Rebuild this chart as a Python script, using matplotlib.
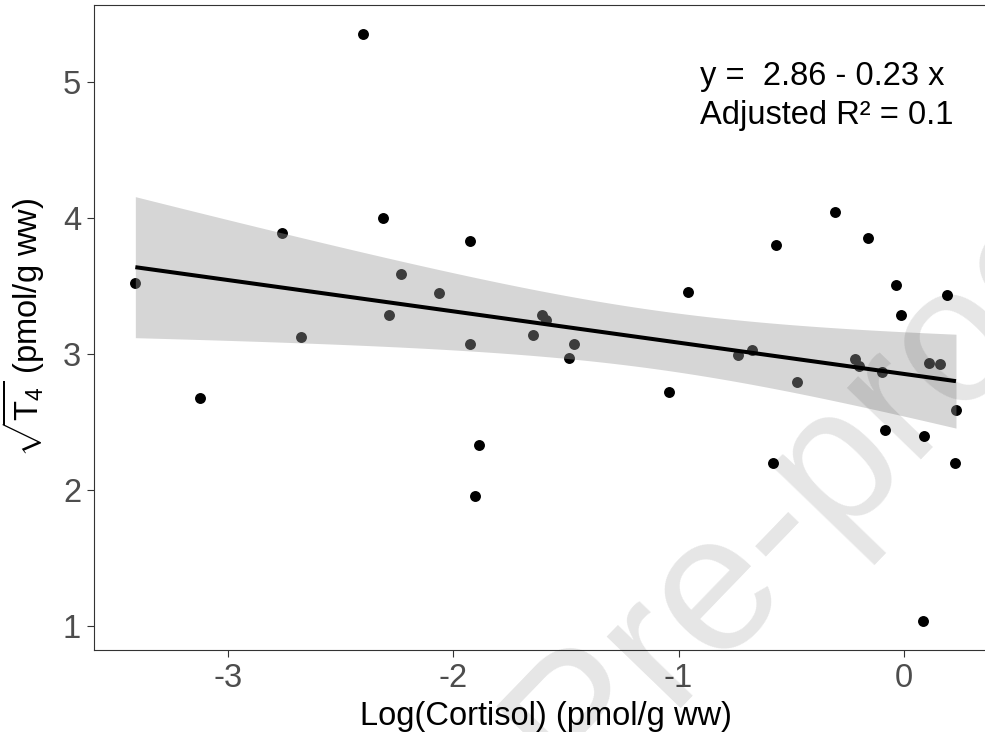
import numpy as np
import matplotlib
matplotlib.use("Agg")
import matplotlib.pyplot as plt

# ===============================================================================
# data

log_cortisol = [-3.413, -3.126, -2.760, -2.677, -2.400, -2.314, -2.286, -2.233,
                -2.065, -1.926, -1.926, -1.887, -1.906, -1.647, -1.605, -1.588,
                -1.488, -1.465, -1.044, -0.960, -0.734, -0.673, -0.581, -0.567,
                -0.472, -0.304, -0.218, -0.198, -0.159, -0.095, -0.084, -0.036,
                -0.014, 0.084, 0.089, 0.114, 0.159, 0.190, 0.226, 0.232]
sqrt_t4 = [3.521, 2.678, 3.895, 3.127, 5.353, 4.005, 3.292, 3.593,
           3.453, 3.830, 3.075, 2.334, 1.957, 3.144, 3.288, 3.254,
           2.976, 3.075, 2.726, 3.460, 2.993, 3.031, 2.204, 3.806,
           2.794, 4.046, 2.969, 2.911, 3.854, 2.873, 2.444, 3.508,
           3.292, 1.041, 2.396, 2.938, 2.928, 3.436, 2.201, 2.592]

xticks = [-3, -2, -1, 0]
yticks = [1, 2, 3, 4, 5]
eq_text = "y =  2.86 - 0.23 x\nAdjusted R² = 0.1"

# ===============================================================================

plt.rcParams['font.family'] = ['Liberation Sans', 'DejaVu Sans']
plt.rcParams['mathtext.fontset'] = 'custom'
plt.rcParams['mathtext.rm'] = 'Liberation Sans'
plt.rcParams['mathtext.it'] = 'Liberation Sans:italic'
plt.rcParams['mathtext.bf'] = 'Liberation Sans:bold'

x = np.array(log_cortisol)
y = np.array(sqrt_t4)

# linear fit + 95% band, like geom_smooth(method="lm")
n = len(x)
slope, icpt = np.polyfit(x, y, 1)
resid = y - (icpt + slope*x)
s = np.sqrt(np.sum(resid**2)/(n-2))
sxx = np.sum((x - x.mean())**2)
tval = 2.024  # t(0.975, df=38)
xs = np.linspace(x.min(), x.max(), 80)
ys = icpt + slope*xs
se = s*np.sqrt(1.0/n + (xs - x.mean())**2/sxx)

# ===============================================================================

W, H = 985, 732
fig = plt.figure(figsize=(W/100, H/100), dpi=100)

xr = x.max() - x.min()
yr = y.max() - y.min()
xlim = (x.min() - 0.05*xr, x.max() + 0.05*xr)
ylim = (y.min() - 0.05*yr, y.max() + 0.05*yr)

left_px, right_px = 94.3, 997.0
top_px, bot_px = 5.0, 650.0
ax = fig.add_axes([left_px/W, 1 - bot_px/H, (right_px-left_px)/W, (bot_px-top_px)/H])

ax.scatter(x, y, s=62, c='black', linewidths=0, zorder=2)
ax.fill_between(xs, ys - tval*se, ys + tval*se, color='#999999', alpha=0.4,
                linewidth=0, zorder=3)
ax.plot(xs, ys, color='black', lw=2.9, zorder=4, solid_capstyle='butt')

ax.set_xlim(*xlim)
ax.set_ylim(*ylim)
ax.set_xticks(xticks)
ax.set_yticks(yticks)
ax.set_xticklabels([str(v) for v in xticks])

for sp in ax.spines.values():
    sp.set_color('#333333')
    sp.set_linewidth(0.8)

ax.tick_params(axis='both', length=5, width=0.8, color='#333333',
               labelcolor='#4D4D4D', labelsize=23.5, pad=4.5)

ax.set_xlabel("Log(Cortisol) (pmol/g ww)", fontsize=23.5, color='black', labelpad=5)
ax.set_ylabel(r"$\sqrt{\mathrm{T}_4}$ (pmol/g ww)", fontsize=23.5, color='black')
ax.yaxis.set_label_coords((47 - left_px)/(right_px - left_px), 0.5)

ax.text((700 - left_px)/(right_px - left_px), 1 - (61 - top_px)/(bot_px - top_px),
        eq_text, transform=ax.transAxes, ha='left', va='top', fontsize=23.5,
        color='black', linespacing=1.32)

# watermark
fig.text(822/W, 1 - 473/H, "Pre-proof", fontsize=140, color='black', alpha=0.1,
         rotation=46, rotation_mode='anchor', ha='center', va='center', zorder=10)

fig.savefig("out.png", dpi=100)
plt.close()
